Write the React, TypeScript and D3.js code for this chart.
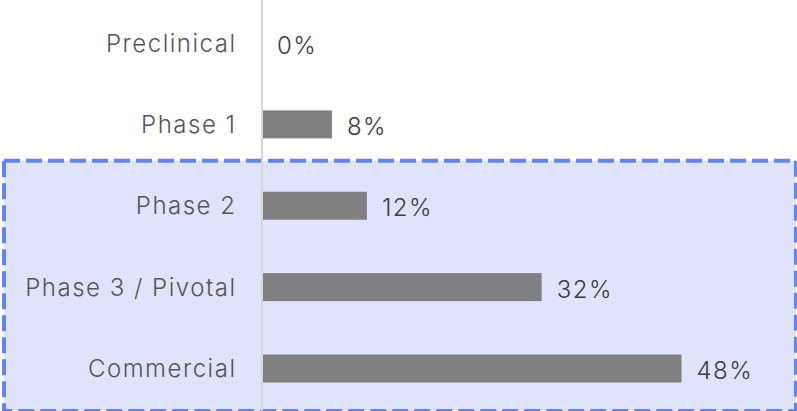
import React from "react";
import * as d3 from "d3";

const categories = ["Preclinical", "Phase 1", "Phase 2", "Phase 3 / Pivotal", "Commercial"];
const values = [0, 8, 12, 32, 48];
const highlighted = ["Phase 2", "Phase 3 / Pivotal", "Commercial"];

const W = 797;
const H = 411;

export default function App() {
  const x = d3.scaleLinear().domain([0, 48]).range([262, 681.5]);
  const y = d3.scalePoint<string>().domain(categories).range([43, 368.5]);
  const barH = 28;
  const font = "Inter, 'IBM Plex Sans', sans-serif";
  const ls = 1.5;

  const hiTop = (y(highlighted[0]) as number) - 45;

  return (
    <svg
      width={W}
      height={H}
      style={{ position: "fixed", left: 0, top: 0, display: "block" }}
    >
      <rect x={0} y={0} width={W} height={H} fill="#ffffff" />
      <rect
        x={4}
        y={hiTop}
        width={792}
        height={H - hiTop + 0}
        fill="#dfe4fc"
        stroke="#6383f6"
        strokeWidth={4}
        strokeDasharray="16 6"
      />
      <line x1={x(0)} x2={x(0)} y1={0} y2={H} stroke="#d6d6d6" strokeWidth={2} />
      {categories.map((c, i) => {
        const cy = y(c) as number;
        const v = values[i];
        return (
          <g key={c}>
            {v > 0 && (
              <rect
                x={x(0) + 1}
                y={cy - barH / 2}
                width={x(v) - x(0) - 1}
                height={barH}
                fill="#808080"
              />
            )}
            <text
              x={235 + ls}
              y={cy}
              dy="0.36em"
              textAnchor="end"
              fontFamily={font}
              fontSize={24}
              fontWeight={300}
              letterSpacing={ls}
              fill="#555555"
            >
              {c}
            </text>
            <text
              x={x(v) + 15}
              y={cy + 2}
              dy="0.36em"
              textAnchor="start"
              fontFamily={font}
              fontSize={24}
              fontWeight={300}
              letterSpacing={ls}
              fill="#3c3c3c"
            >
              {`${v}%`}
            </text>
          </g>
        );
      })}
    </svg>
  );
}
